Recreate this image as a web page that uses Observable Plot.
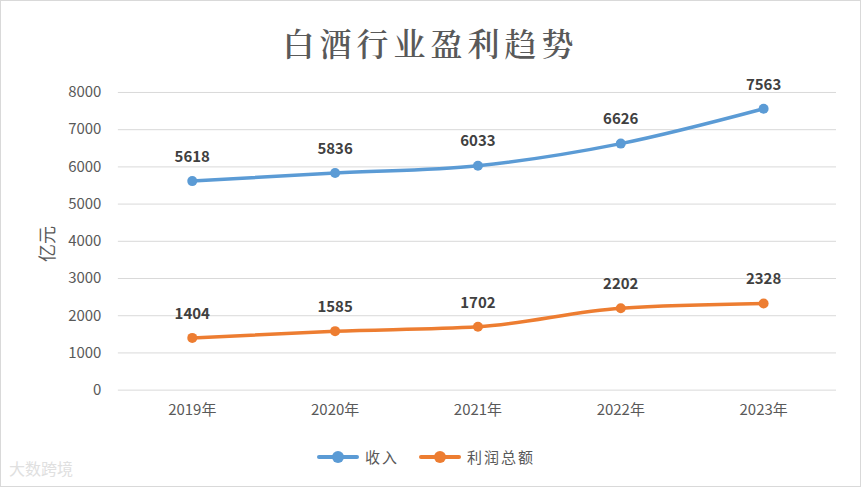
<!DOCTYPE html>
<html><head><meta charset="utf-8">
<script src="https://cdn.jsdelivr.net/npm/d3@7"></script>
<script src="https://cdn.jsdelivr.net/npm/@observablehq/plot@0.6"></script>
<style>
html,body{margin:0;padding:0;background:#fff;}
#wrap{position:relative;width:859px;height:485px;border:1px solid #d9d9d9;background:#fff;overflow:hidden;font-family:"Noto Sans CJK SC","Noto Sans",sans-serif;}
#title{position:absolute;left:0;top:16px;width:100%;text-align:center;font-size:32px;color:#595959;letter-spacing:5px;font-weight:600;font-family:"Noto Serif CJK SC","Noto Sans CJK SC",serif;line-height:50px;}
#chart{position:absolute;left:-1px;top:69px;}
#ylab{position:absolute;left:45px;top:243px;transform:translate(-50%,-50%) rotate(-90deg);font-size:18px;color:#595959;white-space:nowrap;}
#legend{position:absolute;top:445px;left:316px;display:flex;align-items:center;font-size:15px;color:#595959;letter-spacing:2px;}
.item{display:flex;align-items:center;margin-right:20px;}
.sw{position:relative;width:42px;height:12px;margin-right:6px;}
.sw .ln{position:absolute;left:0;top:4px;width:42px;height:4px;border-radius:2px;}
.sw .dt{position:absolute;left:15px;top:0;width:12px;height:12px;border-radius:6px;}
#wm{position:absolute;left:8px;top:455px;font-size:16px;color:#e0e0e0;}
</style></head>
<body>
<div id="wrap">
<div id="title">白酒行业盈利趋势</div>
<div id="chart"></div>
<div id="ylab">亿元</div>
<div id="legend"></div>
<div id="wm">大数跨境</div>
</div>
<script>
const years = ["2019年","2020年","2021年","2022年","2023年"];
const revenue = [5618, 5836, 6033, 6626, 7563];
const profit = [1404, 1585, 1702, 2202, 2328];
const seriesNames = ["收入","利润总额"];
const colors = ["#5B9BD5","#ED7D31"];
const yTicks = [0,1000,2000,3000,4000,5000,6000,7000,8000];

const data = [];
years.forEach((y,i)=>{
  data.push({year:y, value:revenue[i], series:seriesNames[0]});
  data.push({year:y, value:profit[i], series:seriesNames[1]});
});

const chart = Plot.plot({
  width: 861,
  height: 362,
  marginLeft: 118,
  marginRight: 24,
  marginTop: 22,
  marginBottom: 42,
  style:{fontFamily:'"Noto Sans CJK SC","Noto Sans",sans-serif', fontSize:"14px", color:"#595959", background:"transparent"},
  x:{type:"point", domain:years, padding:0.5, label:null},
  y:{domain:[0,8000], label:null},
  color:{domain:seriesNames, range:colors},
  marks:[
    Plot.gridY(yTicks, {stroke:"#d9d9d9", strokeOpacity:1, strokeWidth:1}),
    Plot.axisY(yTicks, {tickSize:0, tickPadding:17, fontSize:15, fill:"#595959", label:null, tickFormat:d=>String(d)}),
    Plot.axisX({tickSize:0, tickPadding:14, fontSize:15, fill:"#595959", label:null}),
    Plot.line(data, {x:"year", y:"value", stroke:"series", strokeWidth:3.5, curve:"monotone-x"}),
    Plot.dot(data, {x:"year", y:"value", fill:"series", r:5}),
    Plot.text(data, {x:"year", y:"value", text:d=>String(d.value), dy:-24, fontSize:15, fontWeight:"bold", fill:"#404040"})
  ]
});
document.getElementById("chart").appendChild(chart);

const lg = document.getElementById("legend");
seriesNames.forEach((n,i)=>{
  const it = document.createElement("div"); it.className="item";
  it.innerHTML = `<div class="sw"><div class="ln" style="background:${colors[i]}"></div><div class="dt" style="background:${colors[i]}"></div></div><span>${n}</span>`;
  lg.appendChild(it);
});
</script>
</body></html>
